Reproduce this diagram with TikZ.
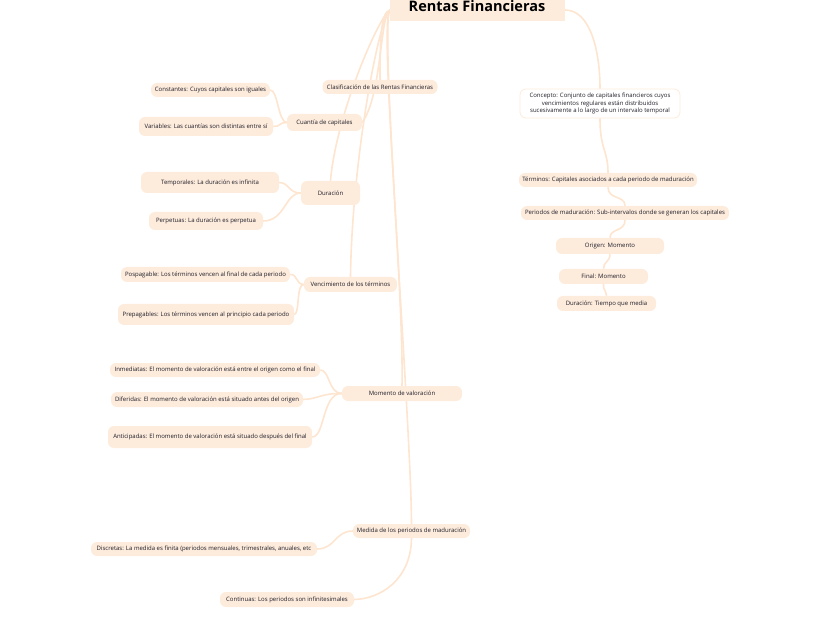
\documentclass[tikz,border=0pt]{standalone}
\usepackage{fontspec}
\setmainfont{Open Sans}
\usepackage{xcolor}
\usetikzlibrary{backgrounds}
\definecolor{boxfill}{RGB}{253,235,220}
\definecolor{linkcol}{RGB}{253,229,208}
\definecolor{txtcol}{RGB}{30,30,40}

\begin{document}
\begin{tikzpicture}[x=1pt,y=-1pt,cap=round,
        rama/.style={fill=boxfill, rounded corners=6pt, inner sep=0pt, minimum height=14pt,
            text=txtcol, font=\fontsize{6}{7.6}\selectfont},
        enlace/.style={draw=linkcol, line width=1.6pt}]
        % frame of the page
        \useasboundingbox (0,0) rectangle (822,636);

        % start points of the links
        \coordinate (L) at (390,10);
        \coordinate (R) at (565,10);

        %title
        \node[fill=boxfill, minimum width=175pt, minimum height=30pt, inner sep=0pt,
            font=\fontsize{14.5}{16}\bfseries\selectfont, text=black] (title) at (477,6) {\raisebox{-5.5pt}{Rentas Financieras}};

        %main branches, left side
        \node[rama, minimum width=115pt] (clasif) at (380,87) {Clasificación de las Rentas Financieras};
        \node[rama, minimum width=75pt, minimum height=17pt] (cuantia) at (324.5,122.5) {Cuantía de capitales};
        \node[rama, minimum width=59pt, minimum height=24pt] (duracion) at (330.5,193) {Duración};
        \node[rama, minimum width=93pt, minimum height=15pt] (vencim) at (350.5,284.5) {Vencimiento de los términos};
        \node[rama, minimum width=120pt, minimum height=15pt] (momento) at (402,393.5) {Momento de valoración};
        \node[rama, minimum width=117pt] (medida) at (411.5,531) {Medida de los periodos de maduración};

        %cuantia
        \node[rama, minimum width=119pt] (constantes) at (210.5,90) {Constantes: Cuyos capitales son iguales};
        \node[rama, minimum width=134pt, minimum height=19pt] (variables) at (206,126.5) {Variables: Las cuantías son distintas entre sí};

        %duracion
        \node[rama, minimum width=138pt, minimum height=21pt] (temporales) at (210,182.5) {Temporales: La duración es infinita};
        \node[rama, minimum width=114pt, minimum height=18pt] (perpetuas) at (206,221) {Perpetuas: La duración es perpetua};

        %vencimiento
        \node[rama, minimum width=169pt, minimum height=15pt] (pospag) at (205.5,274.5) {Pospagable: Los términos vencen al final de cada periodo};
        \node[rama, minimum width=176pt, minimum height=21pt] (prepag) at (206,314.5) {Prepagables: Los términos vencen al principio cada periodo};

        %momento
        \node[rama, minimum width=210pt] (inmed) at (215,370) {Inmediatas: El momento de valoración está entre el origen como el final};
        \node[rama, minimum width=192pt, minimum height=15pt] (difer) at (207,399.5) {Diferidas: El momento de valoración está situado antes del origen};
        \node[rama, minimum width=204pt, minimum height=22pt] (antic) at (210,437) {Anticipadas: El momento de valoración está situado después del final};

        %medida
        \node[rama, minimum width=226pt] (discretas) at (204,549) {Discretas: La medida es finita (periodos mensuales, trimestrales, anuales, etc};
        \node[rama, minimum width=134pt, minimum height=15pt] (continuas) at (287,599.5) {Continuas: Los periodos son infinitesimales};

        %right side
        \node[rama, fill=white, draw=boxfill, line width=0.8pt, minimum width=160pt, minimum height=29pt,
            align=center, font=\fontsize{6}{7.8}\selectfont] (concepto) at (600,103.5) {Concepto: Conjunto de capitales financieros cuyos\\vencimientos regulares están distribuidos\\sucesivamente a lo largo de un intervalo temporal};
        \node[rama, minimum width=178pt] (terminos) at (608,180) {Términos: Capitales asociados a cada periodo de maduración};
        \node[rama, minimum width=208pt] (periodos) at (625,213) {Periodos de maduración: Sub-intervalos donde se generan los capitales};
        \node[rama, minimum width=108pt, minimum height=16pt] (origen) at (610,246) {Origen: Momento};
        \node[rama, minimum width=89pt, minimum height=15pt] (final) at (603.5,276.5) {Final: Momento};
        \node[rama, minimum width=99pt, minimum height=15pt] (durac) at (606.5,303.5) {Duración: Tiempo que media};

        % links, under the boxes
        \begin{scope}[on background layer]
        \draw[enlace] (L) .. controls (380,12) and (380,45) .. (clasif.center);
        \draw[enlace] (L) .. controls (380,14) and (382,95) .. (cuantia.east);
        \draw[enlace] (L) .. controls (379,16) and (336,115) .. (duracion.north);
        \draw[enlace] (L) .. controls (379,18) and (352,160) .. (vencim.north);
        \draw[enlace] (L) .. controls (379,20) and (404,290) .. (momento.north);
        \draw[enlace] (L) .. controls (379,20) and (411,420) .. (medida.north);
        \draw[enlace] (R) .. controls (590,10) and (600,50) .. (concepto.north);

        \draw[enlace] (cuantia.west) .. controls (278,122) and (278,90) .. (constantes.east);
        \draw[enlace] (cuantia.west) .. controls (280,122) and (280,127) .. (variables.east);
        \draw[enlace] (duracion.west) .. controls (288,193) and (290,183) .. (temporales.east);
        \draw[enlace] (duracion.west) .. controls (285,193) and (285,221) .. (perpetuas.east);
        \draw[enlace] (vencim.west) .. controls (295,284) and (298,274) .. (pospag.east);
        \draw[enlace] (vencim.west) .. controls (296,284) and (300,314) .. (prepag.east);
        \draw[enlace] (momento.west) .. controls (328,393) and (330,370) .. (inmed.east);
        \draw[enlace] (momento.west) .. controls (322,393) and (318,399) .. (difer.east);
        \draw[enlace] (momento.west) .. controls (322,393) and (325,437) .. (antic.east);
        \draw[enlace] (medida.west) .. controls (335,531) and (335,549) .. (discretas.east);
        \draw[enlace] (medida.south) .. controls (411,580) and (380,599) .. (continuas.east);

        \draw[enlace] (concepto.south) .. controls (600,150) and (608,150) .. (terminos.north);
        \draw[enlace] (terminos.south) .. controls (608,200) and (625,195) .. (periodos.north);
        \draw[enlace] (periodos.south) .. controls (625,232) and (610,228) .. (origen.north);
        \draw[enlace] (origen.south) .. controls (610,262) and (603,262) .. (final.north);
        \draw[enlace] (final.south) .. controls (603,290) and (606,290) .. (durac.north);
        \end{scope}
\end{tikzpicture}
\end{document}
